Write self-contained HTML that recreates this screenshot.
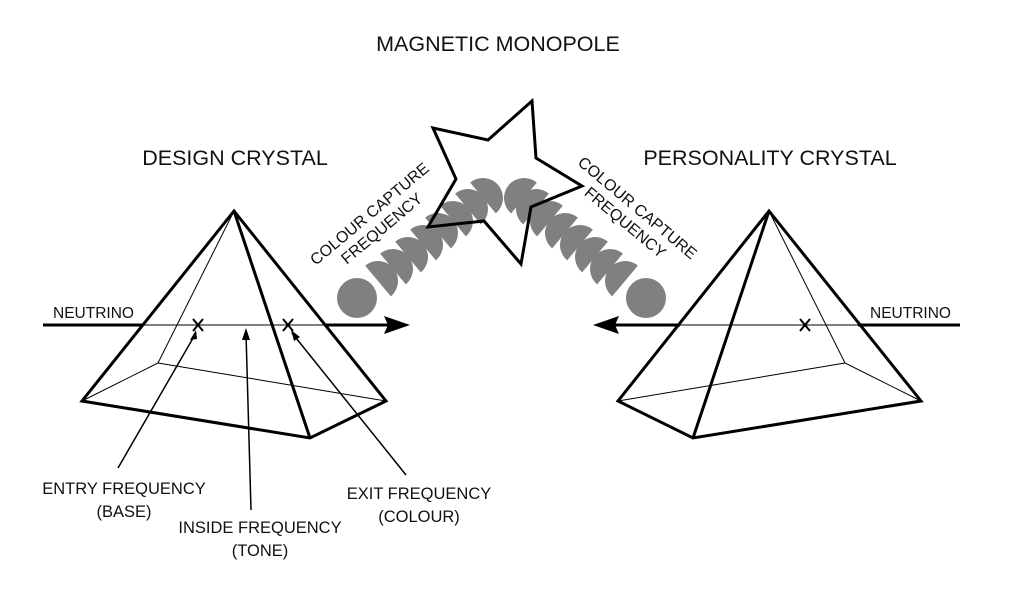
<!DOCTYPE html>
<html><head><style>
body{margin:0;background:#fff;}
svg{display:block;font-family:"Liberation Sans","DejaVu Sans",sans-serif;}
</style></head><body>
<svg width="1023" height="590" viewBox="0 0 1023 590" xmlns="http://www.w3.org/2000/svg">
<rect width="1023" height="590" fill="#fff"/>
<g font-size="21.5" fill="#111" text-anchor="middle">
<text x="498" y="51">MAGNETIC MONOPOLE</text>
<text x="235" y="165">DESIGN CRYSTAL</text>
<text x="770" y="165">PERSONALITY CRYSTAL</text>
</g>
<g fill="#808080">
<circle cx="357" cy="298" r="20"/>
<g transform="translate(378,281) rotate(-40)"><path d="M0 -20 A20 20 0 0 1 0 20 Z"/></g>
<g transform="translate(393,269) rotate(-40)"><path d="M0 -20 A20 20 0 0 1 0 20 Z"/></g>
<g transform="translate(408,257) rotate(-40)"><path d="M0 -20 A20 20 0 0 1 0 20 Z"/></g>
<g transform="translate(423,245) rotate(-40)"><path d="M0 -20 A20 20 0 0 1 0 20 Z"/></g>
<g transform="translate(438,233) rotate(-40)"><path d="M0 -20 A20 20 0 0 1 0 20 Z"/></g>
<g transform="translate(453,221) rotate(-40)"><path d="M0 -20 A20 20 0 0 1 0 20 Z"/></g>
<g transform="translate(468,209) rotate(-40)"><path d="M0 -20 A20 20 0 0 1 0 20 Z"/></g>
<g transform="translate(483,198) rotate(-40)"><path d="M0 -20 A20 20 0 0 1 0 20 Z"/></g>
<circle cx="646" cy="298" r="20"/>
<g transform="translate(625,281) rotate(220)"><path d="M0 -20 A20 20 0 0 1 0 20 Z"/></g>
<g transform="translate(610,269) rotate(220)"><path d="M0 -20 A20 20 0 0 1 0 20 Z"/></g>
<g transform="translate(595,257) rotate(220)"><path d="M0 -20 A20 20 0 0 1 0 20 Z"/></g>
<g transform="translate(580,245) rotate(220)"><path d="M0 -20 A20 20 0 0 1 0 20 Z"/></g>
<g transform="translate(565,233) rotate(220)"><path d="M0 -20 A20 20 0 0 1 0 20 Z"/></g>
<g transform="translate(550,221) rotate(220)"><path d="M0 -20 A20 20 0 0 1 0 20 Z"/></g>
<g transform="translate(536,209) rotate(220)"><path d="M0 -20 A20 20 0 0 1 0 20 Z"/></g>
<g transform="translate(524,198) rotate(220)"><path d="M0 -20 A20 20 0 0 1 0 20 Z"/></g>
</g>
<polygon points="532,101 536,158 582,186 531,207 521,264 484,221 428,227 456,179 433,128 488,140" fill="none" stroke="#000" stroke-width="3" stroke-linejoin="miter"/>
<g font-size="16" fill="#111" text-anchor="middle">
<text transform="translate(373,218) rotate(-40)"><tspan x="0" y="0">COLOUR CAPTURE</tspan><tspan x="0" y="19">FREQUENCY</tspan></text>
<text transform="translate(634,212) rotate(40)"><tspan x="0" y="0">COLOUR CAPTURE</tspan><tspan x="0" y="19">FREQUENCY</tspan></text>
</g>
<g fill="none" stroke="#000">
<path d="M234 211 L158 363 L82 401 M158 363 L386 401" stroke-width="1"/>
<path d="M234 211 L82 401 L310 438 L386 401 Z M234 211 L310 438" stroke-width="3" stroke-linejoin="miter"/>
<path d="M43 325 L143 325 M325 325 L396 325" stroke-width="3"/>
<path d="M143 325 L325 325" stroke-width="1"/>
<path d="M193 319 L203 331 M203 319 L193 331 M283 319 L293 331 M293 319 L283 331" stroke-width="2"/>
<path d="M118 468 L196 333 M251 510 L246 333 M406 475 L292 333" stroke-width="1.5"/>
</g>
<polygon points="410,325 384,316 388,325 384,334" fill="#000"/>
<polygon points="196,330 190,340 197,339" fill="#000"/>
<polygon points="246,328 242,340 250,340" fill="#000"/>
<polygon points="291,330 300,337 294,341" fill="#000"/>
<g fill="none" stroke="#000">
<path d="M769 211 L845 363 L921 401 M845 363 L618 401" stroke-width="1"/>
<path d="M769 211 L618 401 L693 438 L921 401 Z M769 211 L693 438" stroke-width="3" stroke-linejoin="miter"/>
<path d="M960 325 L858 325 M680 325 L608 325" stroke-width="3"/>
<path d="M680 325 L858 325" stroke-width="1"/>
<path d="M800 319 L810 331 M810 319 L800 331" stroke-width="2"/>
</g>
<polygon points="593,325 619,316 615,325 619,334" fill="#000"/>
<g font-size="15.5" fill="#111">
<text x="53" y="318">NEUTRINO</text>
<text x="870" y="318">NEUTRINO</text>
</g>
<g font-size="16.5" fill="#111" text-anchor="middle">
<text x="124" y="494">ENTRY FREQUENCY</text>
<text x="124" y="517">(BASE)</text>
<text x="260" y="533">INSIDE FREQUENCY</text>
<text x="260" y="556">(TONE)</text>
<text x="419" y="499">EXIT FREQUENCY</text>
<text x="419" y="522">(COLOUR)</text>
</g>
</svg>
</body></html>
